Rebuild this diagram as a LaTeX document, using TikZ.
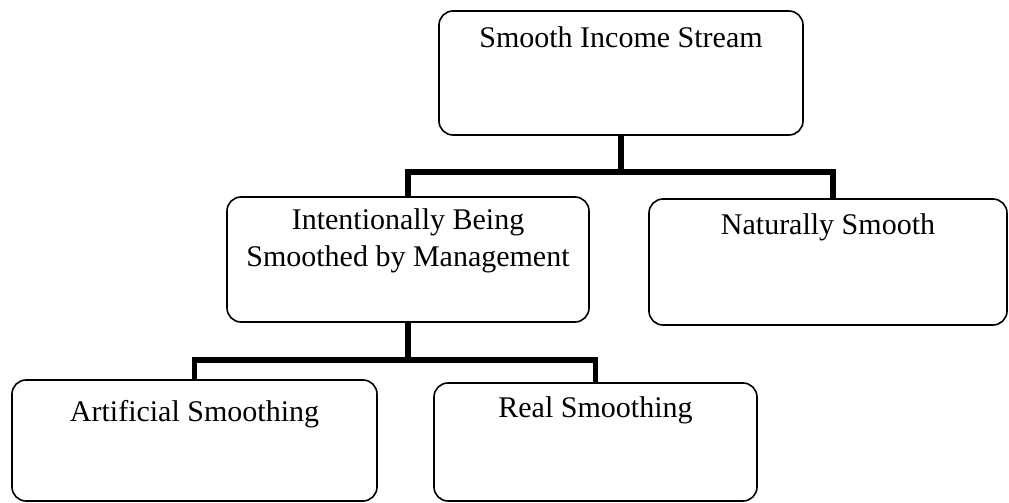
\documentclass[tikz,border=0pt]{standalone}
\usepackage{fontspec}
\setmainfont{Liberation Serif}
\usetikzlibrary{positioning}

\begin{document}
\begin{tikzpicture}[x=0.5pt,y=-0.5pt, every node/.style={font=\fontsize{15}{18.5}\selectfont},
  box/.style={draw, rounded corners=7pt, line width=0.8pt, inner sep=0pt},
  lbl/.style={anchor=base, align=center, inner sep=0pt},
  link/.style={line width=2.7pt}]
  \useasboundingbox (0,0) rectangle (1009,503);
  \node[box,minimum width=182pt,minimum height=62pt] (smooth) at (621,73) {};
  \node[box,minimum width=181pt,minimum height=62.5pt] (mgmt) at (408,259.5) {};
  \node[box,minimum width=179pt,minimum height=63pt] (natural) at (828,262) {};
  \node[box,minimum width=182.5pt,minimum height=60.5pt] (artif) at (194.5,440.5) {};
  \node[box,minimum width=161.5pt,minimum height=59pt] (real) at (595.5,442) {};
  \node[lbl] (smoothT) at ([yshift=-18.5pt]smooth.north) {Smooth Income Stream};
  \node[lbl] (mgmtT) at ([yshift=-35pt]mgmt.north) {Intentionally Being\\Smoothed by Management};
  \node[lbl] (naturalT) at ([yshift=-18pt]natural.north) {Naturally Smooth};
  \node[lbl] (artifT) at ([yshift=-21pt]artif.north) {Artificial Smoothing};
  \node[lbl] (realT) at ([yshift=-17.5pt]real.north) {Real Smoothing};
  \coordinate (up) at (620,172);
  \coordinate (down) at (408,360);
  \draw[link] (smooth.south) -- (smooth.south |- up);
  \draw[link] (mgmt.north) |- (up) -| ([xshift=2.5pt]natural.north);
  \draw[link] (mgmt.south) -- (down);
  \draw[link] (artif.north) |- (down) -| (real.north);
\end{tikzpicture}
\end{document}
